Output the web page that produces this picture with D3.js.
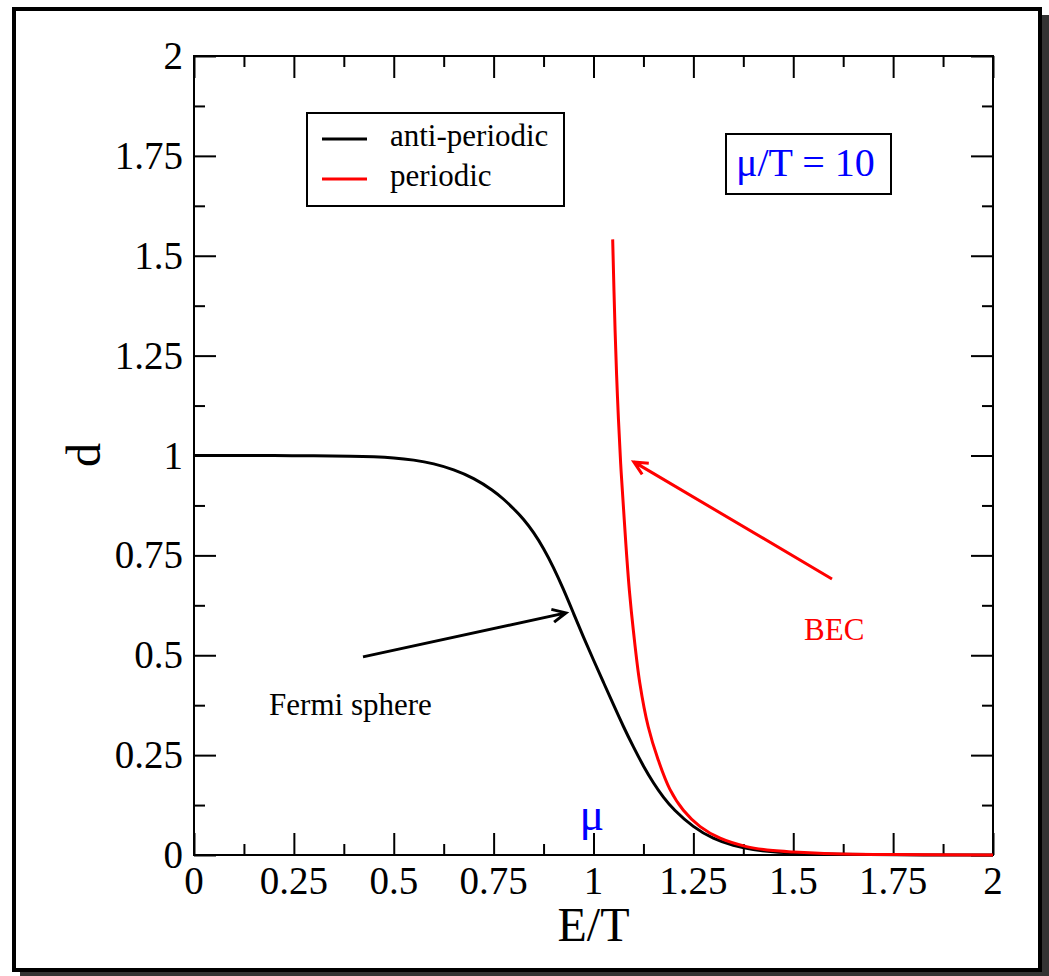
<!DOCTYPE html>
<html>
<head>
<meta charset="utf-8">
<script src="https://cdn.jsdelivr.net/npm/d3@7"></script>
<style>
  html, body { margin: 0; padding: 0; background: #fff; }
  svg { display: block; }
  text { font-family: "Liberation Serif", "Times New Roman", serif; }
</style>
</head>
<body>
<svg id="chart" width="1049" height="976"></svg>
<script>
// Occupation d versus E/T at mu/T = 10
const antiPeriodicE = [0, 0.1, 0.2, 0.3, 0.4, 0.45, 0.5, 0.55, 0.6, 0.65, 0.7, 0.75, 0.775, 0.8, 0.825, 0.85, 0.875, 0.9, 0.925, 0.95, 0.975, 1.0, 1.025, 1.05, 1.075, 1.1, 1.125, 1.15, 1.175, 1.2, 1.25, 1.3, 1.35, 1.4, 1.45, 1.5, 1.6, 1.75, 2.0];
const antiPeriodicD = [1.0, 1.0, 0.9998, 0.9994, 0.9985, 0.997, 0.9945, 0.989, 0.980, 0.965, 0.944, 0.912, 0.891, 0.867, 0.841, 0.808, 0.768, 0.720, 0.665, 0.605, 0.545, 0.488, 0.432, 0.376, 0.321, 0.270, 0.222, 0.180, 0.144, 0.114, 0.069, 0.040, 0.023, 0.013, 0.0075, 0.0045, 0.0015, 0.0003, 0.0];

const periodicE = [1.048, 1.054, 1.060, 1.068, 1.077, 1.083, 1.09, 1.1, 1.116, 1.137, 1.162, 1.191, 1.225, 1.267, 1.317, 1.383, 1.45, 1.5, 1.6, 1.75, 2.0];
const periodicD = [1.541, 1.314, 1.147, 0.980, 0.839, 0.75, 0.66, 0.56, 0.43, 0.321, 0.238, 0.165, 0.112, 0.071, 0.042, 0.021, 0.011, 0.0075, 0.003, 0.001, 0.0];

const xTickValues = [0, 0.25, 0.5, 0.75, 1, 1.25, 1.5, 1.75, 2];
const xTickLabels = ["0", "0.25", "0.5", "0.75", "1", "1.25", "1.5", "1.75", "2"];
const yTickValues = [0, 0.25, 0.5, 0.75, 1, 1.25, 1.5, 1.75, 2];
const yTickLabels = ["0", "0.25", "0.5", "0.75", "1", "1.25", "1.5", "1.75", "2"];
const minorTickValues = [0.125, 0.375, 0.625, 0.875, 1.125, 1.375, 1.625, 1.875];

const seriesNames = ["anti-periodic", "periodic"];
const seriesColors = ["#000000", "#ff0000"];

// Annotation arrows: [fromE, fromD, toE, toD]
const fermiArrow = [0.423, 0.496, 0.931, 0.606];
const becArrow = [1.597, 0.691, 1.101, 0.984];

const svg = d3.select("#chart");

// Page frame with drop shadow
svg.append("rect").attr("x", 20).attr("y", 15).attr("width", 1029).attr("height", 961).attr("fill", "#333");
svg.append("rect").attr("x", 14).attr("y", 9).attr("width", 1026).attr("height", 961)
  .attr("fill", "#fff").attr("stroke", "#000").attr("stroke-width", 4);

const plotLeft = 194, plotRight = 993, plotTop = 56, plotBottom = 855;
const x = d3.scaleLinear().domain([0, 2]).range([plotLeft, plotRight]);
const y = d3.scaleLinear().domain([0, 2]).range([plotBottom, plotTop]);

const plot = svg.append("g");

// Ticks on all four sides, pointing inward
function ticks(axisGen, transform, size) {
  return plot.append("g").attr("transform", transform).call(axisGen.tickSize(size).tickFormat(""))
    .call(g => g.select(".domain").remove())
    .call(g => g.selectAll("line").attr("stroke", "#000").attr("stroke-width", 2));
}
ticks(d3.axisTop(x).tickValues(xTickValues), `translate(0,${plotBottom})`, 22);
ticks(d3.axisTop(x).tickValues(minorTickValues), `translate(0,${plotBottom})`, 11);
ticks(d3.axisBottom(x).tickValues(xTickValues), `translate(0,${plotTop})`, 22);
ticks(d3.axisBottom(x).tickValues(minorTickValues), `translate(0,${plotTop})`, 11);
ticks(d3.axisRight(y).tickValues(yTickValues), `translate(${plotLeft},0)`, 22);
ticks(d3.axisRight(y).tickValues(minorTickValues), `translate(${plotLeft},0)`, 11);
ticks(d3.axisLeft(y).tickValues(yTickValues), `translate(${plotRight},0)`, 22);
ticks(d3.axisLeft(y).tickValues(minorTickValues), `translate(${plotRight},0)`, 11);

plot.append("rect").attr("x", plotLeft).attr("y", plotTop)
  .attr("width", plotRight - plotLeft).attr("height", plotBottom - plotTop)
  .attr("fill", "none").attr("stroke", "#000").attr("stroke-width", 2);

// Tick labels
plot.append("g").selectAll("text").data(xTickValues).join("text")
  .attr("x", d => x(d)).attr("y", plotBottom + 39).attr("text-anchor", "middle")
  .attr("font-size", 39).text((d, i) => xTickLabels[i]);
plot.append("g").selectAll("text").data(yTickValues).join("text")
  .attr("x", plotLeft - 11).attr("y", d => y(d) + 13).attr("text-anchor", "end")
  .attr("font-size", 39).text((d, i) => yTickLabels[i]);

// Axis titles
svg.append("text").attr("x", (plotLeft + plotRight) / 2).attr("y", 941).attr("text-anchor", "middle")
  .attr("font-size", 48).text("E/T");
svg.append("text").attr("transform", "translate(100,455) rotate(-90)").attr("text-anchor", "middle")
  .attr("font-size", 48).text("d");

// Curves
const smoothLine = d3.line().x(d => x(d[0])).y(d => y(d[1])).curve(d3.curveBasis);
const steepLine = d3.line().x(d => x(d[0])).y(d => y(d[1])).curve(d3.curveCatmullRom.alpha(0.5));
const black = antiPeriodicE.map((e, i) => [e, antiPeriodicD[i]]);
const red = periodicE.map((e, i) => [e, periodicD[i]]);
plot.append("path").datum(black).attr("d", smoothLine).attr("fill", "none")
  .attr("stroke", seriesColors[0]).attr("stroke-width", 3);
plot.append("path").datum(red).attr("d", steepLine).attr("fill", "none")
  .attr("stroke", seriesColors[1]).attr("stroke-width", 3);

// Arrows with open heads
function arrow(a, color) {
  const x0 = x(a[0]), y0 = y(a[1]), x1 = x(a[2]), y1 = y(a[3]);
  const ang = Math.atan2(y1 - y0, x1 - x0);
  const len = 15, spread = 0.45;
  const p = d3.path();
  p.moveTo(x0, y0); p.lineTo(x1, y1);
  p.moveTo(x1 - len * Math.cos(ang - spread), y1 - len * Math.sin(ang - spread));
  p.lineTo(x1, y1);
  p.lineTo(x1 - len * Math.cos(ang + spread), y1 - len * Math.sin(ang + spread));
  plot.append("path").attr("d", p.toString()).attr("fill", "none").attr("stroke", color)
    .attr("stroke-width", 3).attr("stroke-linejoin", "miter");
}
arrow(fermiArrow, "#000");
arrow(becArrow, "#ff0000");

// Annotations
plot.append("text").attr("x", x(0.188)).attr("y", y(0.35)).attr("font-size", 31).text("Fermi sphere");
plot.append("text").attr("x", x(1.527)).attr("y", y(0.538)).attr("font-size", 31).attr("fill", "#ff0000").text("BEC");
plot.append("text").attr("x", x(0.996)).attr("y", y(0.062)).attr("text-anchor", "middle")
  .attr("font-size", 46).attr("fill", "#0000ff").text("μ");

// Legend
const legend = svg.append("g");
legend.append("rect").attr("x", 307).attr("y", 113).attr("width", 257).attr("height", 93)
  .attr("fill", "#fff").attr("stroke", "#000").attr("stroke-width", 2);
seriesNames.forEach((name, i) => {
  const ly = 139 + i * 40;
  legend.append("line").attr("x1", 322).attr("x2", 367).attr("y1", ly).attr("y2", ly)
    .attr("stroke", seriesColors[i]).attr("stroke-width", 3);
  legend.append("text").attr("x", 390).attr("y", ly + 7).attr("font-size", 31).text(name);
});

// Parameter box
const param = svg.append("g");
param.append("rect").attr("x", 726).attr("y", 134).attr("width", 165).attr("height", 60)
  .attr("fill", "#fff").attr("stroke", "#000").attr("stroke-width", 2);
param.append("text").attr("x", 736).attr("y", 176).attr("font-size", 40).attr("fill", "#0000ff").text("μ/T = 10");
</script>
</body>
</html>
